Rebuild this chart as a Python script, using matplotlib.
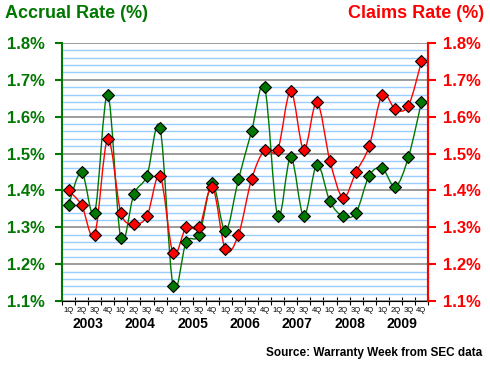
import numpy as np
import matplotlib
matplotlib.use('Agg')
import matplotlib.pyplot as plt
from matplotlib.path import Path
from matplotlib.patches import PathPatch
from matplotlib.ticker import MultipleLocator, FixedLocator

plt.rcParams['font.family'] = ['Liberation Sans', 'DejaVu Sans']

########################## data ##########################
years = ['2003', '2004', '2005', '2006', '2007', '2008', '2009']
quarters = ['1Q', '2Q', '3Q', '4Q']
accrual = [1.36, 1.45, 1.34, 1.66,
           1.27, 1.39, 1.44, 1.57,
           1.14, 1.26, 1.28, 1.42,
           1.29, 1.43, 1.56, 1.68,
           1.33, 1.49, 1.33, 1.47,
           1.37, 1.33, 1.34, 1.44,
           1.46, 1.41, 1.49, 1.64]
claims = [1.40, 1.36, 1.28, 1.54,
          1.34, 1.31, 1.33, 1.44,
          1.23, 1.30, 1.30, 1.41,
          1.24, 1.28, 1.43, 1.51,
          1.51, 1.67, 1.51, 1.64,
          1.48, 1.38, 1.45, 1.52,
          1.66, 1.62, 1.63, 1.75]

GREEN = '#007700'
RED = '#ff0000'


def smooth_path(x, y):
    # Catmull-Rom style bezier through the data points
    pts = np.column_stack([x, y]).astype(float)
    n = len(pts)
    verts = [pts[0]]
    codes = [Path.MOVETO]
    for i in range(n - 1):
        p0 = pts[max(i - 1, 0)]
        p1 = pts[i]
        p2 = pts[i + 1]
        p3 = pts[min(i + 2, n - 1)]
        c1 = p1 + (p2 - p0) / 6.0
        c2 = p2 - (p3 - p1) / 6.0
        verts += [c1, c2, p2]
        codes += [Path.CURVE4] * 3
    return Path(verts, codes)


x = np.arange(len(accrual))

fig = plt.figure(figsize=(4.9, 3.65), dpi=100)
ax = fig.add_axes([62 / 490, 1 - 301 / 365, 366 / 490, 258 / 365])
ax.set_xlim(-0.5, len(x) - 0.5)
ax.set_ylim(1.1, 1.8)

# grid: light blue minor, gray major
ax.yaxis.set_minor_locator(MultipleLocator(0.02))
ax.yaxis.set_major_locator(MultipleLocator(0.1))
ax.grid(which='minor', axis='y', color='#99ccff', linewidth=1)
ax.grid(which='major', axis='y', color='#8c8c8c', linewidth=1.2)
ax.set_axisbelow(True)

ax.add_patch(PathPatch(smooth_path(x, accrual), fill=False, edgecolor=GREEN, lw=1.0, zorder=3))
ax.add_patch(PathPatch(smooth_path(x, claims), fill=False, edgecolor=RED, lw=1.0, zorder=3))
ax.plot(x, accrual, linestyle='none', marker='D', markersize=6.3, color=GREEN,
        markeredgecolor='black', markeredgewidth=0.8, zorder=4)
ax.plot(x, claims, linestyle='none', marker='D', markersize=6.3, color=RED,
        markeredgecolor='black', markeredgewidth=0.8, zorder=4)

# spines
ax.spines['top'].set_visible(False)
ax.spines['left'].set_color(GREEN)
ax.spines['left'].set_linewidth(1.5)
ax.spines['right'].set_color(RED)
ax.spines['right'].set_linewidth(1.5)
ax.spines['bottom'].set_color('black')

ax.yaxis.set_major_formatter(matplotlib.ticker.FuncFormatter(lambda v, p: '%.1f%%' % v))
ax.tick_params(axis='y', which='major', colors=GREEN, labelsize=12, length=5, width=1.5, pad=7)
ax.tick_params(axis='y', which='minor', length=0)
for t in ax.get_yticklabels():
    t.set_fontweight('bold')

ax2 = ax.twinx()
ax2.set_ylim(1.1, 1.8)
ax2.yaxis.set_major_locator(MultipleLocator(0.1))
ax2.yaxis.set_major_formatter(matplotlib.ticker.FuncFormatter(lambda v, p: '%.1f%%' % v))
ax2.tick_params(axis='y', colors=RED, labelsize=12, length=6, width=1.5, pad=5)
for t in ax2.get_yticklabels():
    t.set_fontweight('bold')
for s in ['top', 'left', 'bottom']:
    ax2.spines[s].set_visible(False)
ax2.spines['right'].set_color(RED)
ax2.spines['right'].set_linewidth(1.5)

# x axis: ticks at quarter boundaries, labels drawn as text
ax.xaxis.set_major_locator(FixedLocator(np.arange(-0.5, len(x) + 0.5, 1)))
ax.tick_params(axis='x', direction='inout', length=6, labelbottom=False)
for i in x:
    ax.text(i, -0.035, quarters[i % 4], transform=ax.get_xaxis_transform(),
            ha='center', va='center', fontsize=5.5)
for j, yr in enumerate(years):
    ax.text(j * 4 + 1.5, -0.09, yr, transform=ax.get_xaxis_transform(),
            ha='center', va='center', fontsize=10, fontweight='bold')

fig.text(5 / 490, 1 - 14 / 365, 'Accrual Rate (%)', color=GREEN, fontsize=13,
         fontweight='bold', ha='left', va='center')
fig.text(484 / 490, 1 - 14 / 365, 'Claims Rate (%)', color=RED, fontsize=13,
         fontweight='bold', ha='right', va='center')
fig.text(482 / 490, 1 - 353 / 365, 'Source: Warranty Week from SEC data',
         fontsize=8.5, fontweight='bold', ha='right', va='center')

fig.savefig('out.png', dpi=100)
